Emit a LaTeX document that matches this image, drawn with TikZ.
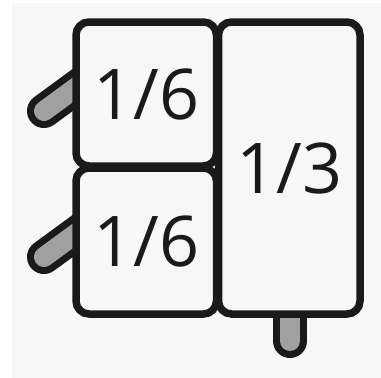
\documentclass[tikz,border=0pt]{standalone}
\usepackage{fontspec}
\setmainfont{Open Sans}
\definecolor{bg}{HTML}{F7F7F7}
\definecolor{ink}{HTML}{1A1A1A}
\definecolor{hg}{HTML}{A0A0A0}
\begin{document}
\begin{tikzpicture}[x=1pt,y=-1pt,
  pan/.style={draw=ink, line width=7.5pt, fill=bg, rounded corners=13pt, inner sep=0pt,
    font=\fontsize{70}{70}\selectfont, text=ink},
  hout/.style={draw=ink, line width=34pt, line cap=round},
  hin/.style={draw=hg, line width=20pt, line cap=round}]
\useasboundingbox (0,0) rectangle (381,378);
\fill[white] (0,0) rectangle (381,378);
\fill[bg] (12,3) rectangle (381,378);
% handles
\coordinate (h1a) at (44,111); \coordinate (h1b) at (100,70);
\coordinate (h2a) at (44,257); \coordinate (h2b) at (100,216);
\coordinate (h3a) at (290,341); \coordinate (h3b) at (290,290);
\foreach \a/\b in {h1a/h1b,h2a/h2b,h3a/h3b}{
  \draw[hout] (\a) -- (\b);
  \draw[hin] (\a) -- (\b);
}
% pans
\node[pan, minimum width=140.5pt, minimum height=144pt] (p1) at (146.25,94) {1/6};
\node[pan, minimum width=140.5pt, minimum height=146pt] (p2) at (146.25,241) {1/6};
\node[pan, minimum width=141.5pt, minimum height=292pt] (p3) at (289.25,168) {1/3};
\end{tikzpicture}
\end{document}
